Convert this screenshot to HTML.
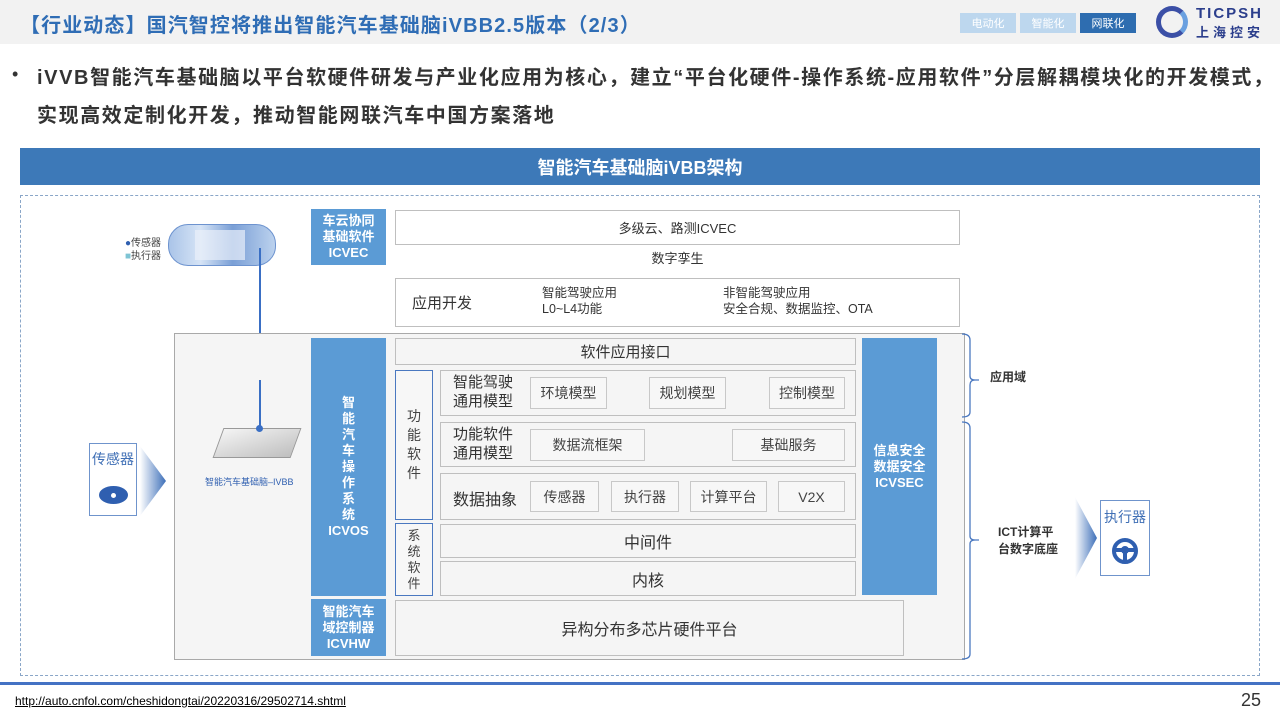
<!DOCTYPE html>
<html><head><meta charset="utf-8">
<style>
*{margin:0;padding:0;box-sizing:border-box}
body{width:1280px;height:720px;position:relative;background:#fff;font-family:"Liberation Sans","Noto Sans CJK SC",sans-serif;overflow:hidden;color:#333}
.a{position:absolute}
.c{display:flex;align-items:center;justify-content:center;text-align:center}
.blue{background:#5b9bd5;color:#fff;font-weight:bold}
.wb{background:#fff;border:1px solid #bfbfbf}
.gb{background:#f5f5f5;border:1px solid #bfbfbf}
.ib{background:#f7f7f7;border:1px solid #c8c8c8;font-size:14px;color:#444}
.vb{border:1.5px solid #4a78c0;background:#f7f7f7;font-size:14px;line-height:19px;color:#444}
</style></head><body>
<div class="a" style="left:0;top:0;width:1280px;height:44px;background:#f2f2f2"></div>
<div class="a" style="left:20px;top:9px;font-size:20px;font-weight:bold;color:#2f6db5;white-space:nowrap;letter-spacing:1.1px">【行业动态】国汽智控将推出智能汽车基础脑iVBB2.5版本（2/3）</div>
<div class="a c" style="left:960px;top:13px;width:56px;height:20px;background:#bdd7ee;color:#fff;font-size:11px">电动化</div>
<div class="a c" style="left:1020px;top:13px;width:56px;height:20px;background:#bdd7ee;color:#fff;font-size:11px">智能化</div>
<div class="a c" style="left:1080px;top:13px;width:56px;height:20px;background:#2e6db0;color:#fff;font-size:11px">网联化</div>
<div class="a" style="left:1156px;top:6px;width:32px;height:32px;border-radius:50%;border:5px solid #3b4fa6;border-right-color:#6aa0e0"></div>
<div class="a" style="left:1196px;top:5px;font-size:15px;font-weight:bold;color:#2b3e8c;letter-spacing:2px">TICPSH</div>
<div class="a" style="left:1196px;top:22px;font-size:13px;font-weight:bold;color:#2b3e8c;letter-spacing:4px">上海控安</div>

<div class="a" style="left:12px;top:64px;font-size:18px">•</div>
<div class="a" style="left:37px;top:59px;font-size:20px;font-weight:bold;color:#333;line-height:38px;width:1240px;white-space:nowrap;letter-spacing:1.6px">iVVB智能汽车基础脑以平台软硬件研发与产业化应用为核心，建立“平台化硬件-操作系统-应用软件”分层解耦模块化的开发模式，<br>实现高效定制化开发，推动智能网联汽车中国方案落地</div>

<div class="a c" style="left:20px;top:148px;width:1240px;height:37px;background:#3d79b8;color:#fff;font-size:18px;font-weight:bold">智能汽车基础脑iVBB架构</div>
<div class="a" style="left:20px;top:195px;width:1240px;height:481px;border:1px dashed #8aa6c8"></div>

<!-- car -->
<div class="a" style="left:168px;top:224px;width:108px;height:42px;border-radius:20px;background:linear-gradient(90deg,#aac4e8,#d6e4f6 30%,#7a9fd6 60%,#bcd2ee);border:1px solid #6d93cf"></div>
<div class="a" style="left:195px;top:230px;width:50px;height:30px;background:#e9f0fa;opacity:.7"></div>
<div class="a" style="left:125px;top:237px;font-size:10px;color:#444;line-height:13px"><span style="color:#2f5fb0">●</span>传感器<br><span style="color:#7ec4d4">■</span>执行器</div>
<div class="a" style="left:259px;top:248px;width:2px;height:180px;background:#3a6fc4"></div>
<!-- inner panel -->
<div class="a" style="left:174px;top:333px;width:791px;height:327px;background:#f5f5f5;border:1px solid #a9a9a9"></div>
<div class="a" style="left:259px;top:380px;width:2px;height:48px;background:#3a6fc4"></div>
<div class="a" style="left:218px;top:428px;width:78px;height:30px;background:linear-gradient(160deg,#f4f4f4,#bfbfbf);transform:skewX(-20deg);border:1px solid #999"></div>
<div class="a" style="left:256px;top:425px;width:7px;height:7px;border-radius:50%;background:#3a6fc4"></div>
<div class="a" style="left:205px;top:475px;font-size:9px;color:#2f5fb0;white-space:nowrap">智能汽车基础脑–IVBB</div>

<!-- sensor -->
<div class="a" style="left:89px;top:443px;width:48px;height:73px;border:1.5px solid #6f94cc;background:#fff"></div>
<div class="a" style="left:89px;top:449px;width:48px;text-align:center;font-size:14px;color:#3f6fb5">传感器</div>
<div class="a" style="left:99px;top:486px;width:29px;height:18px;border-radius:50%;background:#2f5fb0"></div>
<div class="a" style="left:108px;top:490px;width:11px;height:11px;border-radius:50%;background:#fff;border:3px solid #2f5fb0"></div>
<div class="a" style="left:140px;top:446px;width:26px;height:70px;background:linear-gradient(90deg,#fff,#3d6fb9);clip-path:polygon(0 0,100% 50%,0 100%)"></div>

<!-- blue side boxes -->
<div class="a c blue" style="left:311px;top:209px;width:75px;height:56px;font-size:13px;line-height:16px">车云协同<br>基础软件<br>ICVEC</div>
<div class="a c blue" style="left:311px;top:338px;width:75px;height:258px;font-size:13px;line-height:16px">智<br>能<br>汽<br>车<br>操<br>作<br>系<br>统<br>ICVOS</div>
<div class="a c blue" style="left:311px;top:599px;width:75px;height:57px;font-size:13px;line-height:16px">智能汽车<br>域控制器<br>ICVHW</div>
<div class="a c blue" style="left:862px;top:338px;width:75px;height:257px;font-size:13px;line-height:16px">信息安全<br>数据安全<br>ICVSEC</div>

<div class="a c wb" style="left:395px;top:210px;width:565px;height:35px;font-size:13px">多级云、路测ICVEC</div>
<div class="a" style="left:395px;top:248px;width:565px;text-align:center;font-size:13px">数字孪生</div>
<div class="a wb" style="left:395px;top:278px;width:565px;height:49px"></div>
<div class="a" style="left:412px;top:292px;font-size:15px">应用开发</div>
<div class="a" style="left:542px;top:285px;font-size:12.5px;line-height:16px">智能驾驶应用<br>L0~L4功能</div>
<div class="a" style="left:723px;top:285px;font-size:12.5px;line-height:16px">非智能驾驶应用<br>安全合规、数据监控、OTA</div>

<div class="a c gb" style="left:395px;top:338px;width:461px;height:27px;font-size:15px">软件应用接口</div>
<div class="a c vb" style="left:395px;top:370px;width:38px;height:150px">功<br>能<br>软<br>件</div>
<div class="a c vb" style="left:395px;top:523px;width:38px;height:73px;line-height:16px;font-size:13px">系<br>统<br>软<br>件</div>

<div class="a gb" style="left:440px;top:370px;width:416px;height:46px"></div>
<div class="a" style="left:453px;top:373px;font-size:15px;line-height:19px">智能驾驶<br>通用模型</div>
<div class="a c ib" style="left:530px;top:377px;width:77px;height:32px">环境模型</div>
<div class="a c ib" style="left:649px;top:377px;width:77px;height:32px">规划模型</div>
<div class="a c ib" style="left:769px;top:377px;width:76px;height:32px">控制模型</div>

<div class="a gb" style="left:440px;top:422px;width:416px;height:45px"></div>
<div class="a" style="left:453px;top:425px;font-size:15px;line-height:19px">功能软件<br>通用模型</div>
<div class="a c ib" style="left:530px;top:429px;width:115px;height:32px">数据流框架</div>
<div class="a c ib" style="left:732px;top:429px;width:113px;height:32px">基础服务</div>

<div class="a gb" style="left:440px;top:473px;width:416px;height:47px"></div>
<div class="a" style="left:453px;top:486px;font-size:16px">数据抽象</div>
<div class="a c ib" style="left:530px;top:481px;width:69px;height:31px">传感器</div>
<div class="a c ib" style="left:611px;top:481px;width:68px;height:31px">执行器</div>
<div class="a c ib" style="left:690px;top:481px;width:77px;height:31px">计算平台</div>
<div class="a c ib" style="left:778px;top:481px;width:67px;height:31px">V2X</div>

<div class="a c gb" style="left:440px;top:524px;width:416px;height:34px;font-size:16px">中间件</div>
<div class="a c gb" style="left:440px;top:561px;width:416px;height:35px;font-size:16px">内核</div>
<div class="a c gb" style="left:395px;top:600px;width:509px;height:56px;font-size:16px">异构分布多芯片硬件平台</div>

<!-- braces -->
<svg class="a" style="left:955px;top:330px" width="40" height="335">
<path d="M7 4 Q15 4 15 10 V46 Q15 50 20 50 H24 M20 50 Q15 50 15 55 V82 Q15 87 7 87" fill="none" stroke="#4a78c0" stroke-width="1.3"/>
<path d="M7 92 Q15 92 15 98 V206 Q15 210 20 210 H24 M20 210 Q15 210 15 214 V324 Q15 329 7 329" fill="none" stroke="#4a78c0" stroke-width="1.3"/>
</svg>
<div class="a" style="left:990px;top:368px;font-size:12px;font-weight:bold">应用域</div>
<div class="a" style="left:998px;top:524px;font-size:12px;font-weight:bold;line-height:17px">ICT计算平<br>台数字底座</div>

<div class="a" style="left:1075px;top:497px;width:22px;height:82px;background:linear-gradient(90deg,#fff,#3d6fb9);clip-path:polygon(0 0,100% 50%,0 100%)"></div>
<div class="a" style="left:1100px;top:500px;width:50px;height:76px;border:1.5px solid #6f94cc;background:#fff"></div>
<div class="a" style="left:1100px;top:507px;width:50px;text-align:center;font-size:14px;color:#3f6fb5">执行器</div>
<div class="a" style="left:1112px;top:538px;width:26px;height:26px;border-radius:50%;border:4px solid #2f5fb0"></div>
<div class="a" style="left:1114px;top:548px;width:22px;height:4px;background:#2f5fb0"></div>
<div class="a" style="left:1121px;top:546px;width:8px;height:8px;border-radius:50%;background:#2f5fb0"></div>
<div class="a" style="left:1123px;top:552px;width:4px;height:9px;background:#2f5fb0"></div>

<div class="a" style="left:0;top:682px;width:1280px;height:3px;background:#4472c4"></div>
<div class="a" style="left:15px;top:694px;font-size:12px;color:#000;text-decoration:underline">http://auto.cnfol.com/cheshidongtai/20220316/29502714.shtml</div>
<div class="a" style="left:1241px;top:690px;font-size:18px;color:#333">25</div>
</body></html>
